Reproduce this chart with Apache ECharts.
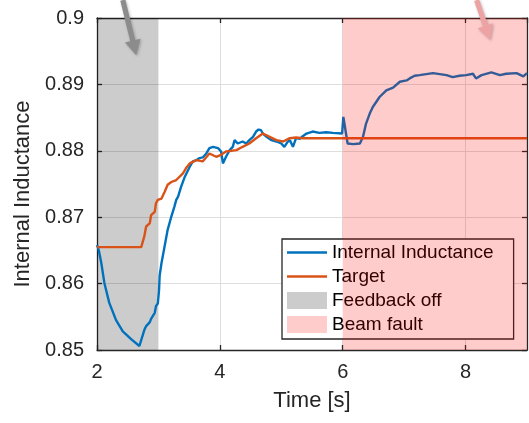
<!DOCTYPE html>
<html>
<head>
<meta charset="utf-8">
<script src="https://cdn.jsdelivr.net/npm/echarts@6/dist/echarts.min.js"></script>
<style>html,body{margin:0;padding:0;background:#fff;}#c{width:529px;height:423px;}</style>
</head>
<body>
<div id="c"></div>
<script>
const inductanceTime = [2.00,2.03,2.07,2.12,2.20,2.31,2.42,2.56,2.69,2.72,2.77,2.80,2.83,2.86,2.88,2.91,2.94,2.96,2.99,3.01,3.02,3.05,3.10,3.15,3.21,3.26,3.29,3.32,3.37,3.43,3.51,3.56,3.62,3.67,3.72,3.78,3.83,3.89,3.97,4.02,4.05,4.08,4.10,4.16,4.21,4.24,4.27,4.29,4.37,4.43,4.48,4.54,4.59,4.63,4.67,4.70,4.76,4.84,4.92,5.00,5.05,5.10,5.14,5.19,5.24,5.30,5.35,5.41,5.51,5.62,5.73,5.84,5.99,6.01,6.03,6.05,6.08,6.17,6.28,6.33,6.38,6.44,6.49,6.60,6.71,6.82,6.93,7.04,7.09,7.17,7.25,7.47,7.69,7.79,7.90,8.01,8.12,8.17,8.26,8.42,8.56,8.66,8.83,8.94,9.00];
const inductance = [0.8658,0.8650,0.8631,0.8601,0.8571,0.8545,0.8528,0.8516,0.8506,0.8505,0.8530,0.8536,0.8538,0.8542,0.8547,0.8550,0.8556,0.8566,0.8570,0.8590,0.8612,0.8631,0.8656,0.8681,0.8701,0.8716,0.8726,0.8731,0.8746,0.8761,0.8776,0.8784,0.8786,0.8789,0.8790,0.8796,0.8804,0.8806,0.8804,0.8799,0.8781,0.8779,0.8791,0.8801,0.8806,0.8816,0.8819,0.8811,0.8814,0.8811,0.8816,0.8821,0.8829,0.8832,0.8831,0.8826,0.8821,0.8816,0.8814,0.8811,0.8806,0.8813,0.8816,0.8806,0.8819,0.8818,0.8822,0.8826,0.8829,0.8827,0.8828,0.8827,0.8826,0.8851,0.8840,0.8828,0.8811,0.8810,0.8811,0.8821,0.8841,0.8856,0.8866,0.8881,0.8891,0.8895,0.8904,0.8906,0.8909,0.8913,0.8914,0.8917,0.8914,0.8911,0.8913,0.8914,0.8916,0.8909,0.8914,0.8918,0.8914,0.8916,0.8917,0.8912,0.8917];
const targetTime = [2.00,2.72,2.77,2.80,2.86,2.88,2.94,2.96,2.99,3.05,3.10,3.15,3.21,3.29,3.40,3.45,3.51,3.62,3.72,3.83,3.94,4.02,4.10,4.27,4.37,4.48,4.59,4.70,4.81,4.92,5.03,5.14,5.24,5.35,5.46,9.00];
const target = [0.8655,0.8655,0.8671,0.8686,0.8691,0.8703,0.8708,0.8721,0.8726,0.8728,0.8738,0.8749,0.8753,0.8756,0.8766,0.8774,0.8781,0.8786,0.8784,0.8796,0.8791,0.8794,0.8799,0.8801,0.8806,0.8811,0.8819,0.8826,0.8821,0.8816,0.8814,0.8819,0.8820,0.8819,0.8819,0.8819];
const feedbackOff = [2, 3];
const beamFault = [6, 9];
const xTicks = [2, 4, 6, 8];
const yTicks = [0.85, 0.86, 0.87, 0.88, 0.89, 0.9];
// arrow annotations in data coordinates: [fromX, fromY, toX, toY]
const grayArrow = [2.42, 0.9027, 2.64, 0.8944];
const pinkArrow = [8.18, 0.9027, 8.40, 0.8967];

const FONT = 'Liberation Sans, Arial, Helvetica, sans-serif';
const AX = '#262626';
const chart = echarts.init(document.getElementById('c'), null, {renderer: 'canvas'});

const baseX = {
  type: 'value', min: 2, max: 9, interval: 2
};
const baseY = {
  type: 'value', min: 0.85, max: 0.9, interval: 0.01
};

chart.setOption({
  animation: false,
  backgroundColor: '#fff',
  grid: {left: 97, right: 2, top: 18, bottom: 73, containLabel: false},
  xAxis: [
    Object.assign({}, baseX, {
      position: 'bottom',
      name: 'Time [s]', nameLocation: 'middle', nameGap: 40,
      nameTextStyle: {fontFamily: FONT, fontSize: 22, color: AX},
      axisLine: {show: true, onZero: false, lineStyle: {color: AX, width: 1.3}},
      axisTick: {show: true, inside: true, length: 5, lineStyle: {color: AX, width: 1.3}},
      axisLabel: {fontFamily: FONT, fontSize: 20, color: AX, margin: 12, showMaxLabel: false},
      splitLine: {show: true, lineStyle: {color: '#dedede', width: 1}}
    }),
    Object.assign({}, baseX, {
      position: 'top',
      axisLine: {show: true, onZero: false, lineStyle: {color: AX, width: 1.3}},
      axisTick: {show: true, inside: true, length: 5, lineStyle: {color: AX, width: 1.3}},
      axisLabel: {show: false},
      splitLine: {show: false}
    })
  ],
  yAxis: [
    Object.assign({}, baseY, {
      position: 'left',
      name: 'Internal Inductance', nameLocation: 'middle', nameGap: 62,
      nameTextStyle: {fontFamily: FONT, fontSize: 22, color: AX, padding: [0, 0, 0, -20]},
      axisLine: {show: true, onZero: false, lineStyle: {color: AX, width: 1.3}},
      axisTick: {show: true, inside: true, length: 5, lineStyle: {color: AX, width: 1.3}},
      axisLabel: {fontFamily: FONT, fontSize: 20, color: AX, margin: 13},
      splitLine: {show: true, lineStyle: {color: '#dedede', width: 1}}
    }),
    Object.assign({}, baseY, {
      position: 'right',
      axisLine: {show: true, onZero: false, lineStyle: {color: AX, width: 1.3}},
      axisTick: {show: true, inside: true, length: 5, lineStyle: {color: AX, width: 1.3}},
      axisLabel: {show: false},
      splitLine: {show: false}
    })
  ],
  legend: {
    orient: 'vertical', left: 282, top: 239,
    padding: [4, 20, 5, 5],
    itemWidth: 40, itemHeight: 17, itemGap: 5, itemTextGap: 4,
    backgroundColor: '#fff', borderColor: AX, borderWidth: 1.3, borderRadius: 0,
    textStyle: {fontFamily: FONT, fontSize: 19, color: '#000'},
    selectedMode: false,
    data: [
      {name: 'Internal Inductance', icon: 'path://M0,0H40V2.6H0Z', itemStyle: {color: '#0072BD'}},
      {name: 'Target', icon: 'path://M0,0H40V2.6H0Z', itemStyle: {color: '#D95319'}},
      {name: 'Feedback off', icon: 'rect', itemStyle: {color: '#cccccc'}},
      {name: 'Beam fault', icon: 'rect', itemStyle: {color: '#ffcccc'}}
    ]
  },
  series: [
    {
      name: 'Feedback off', type: 'line', data: [], silent: true,
      itemStyle: {color: '#cccccc'},
      markArea: {
        silent: true, z: 1,
        itemStyle: {color: 'rgba(0,0,0,0.2)', borderWidth: 0},
        data: [[{xAxis: feedbackOff[0]}, {xAxis: feedbackOff[1]}]]
      }
    },
    {
      name: 'Internal Inductance', type: 'line', z: 3,
      data: inductanceTime.map((t, i) => [t, inductance[i]]),
      showSymbol: false, symbol: 'none',
      lineStyle: {color: '#0072BD', width: 2.4},
      itemStyle: {color: '#0072BD'}
    },
    {
      name: 'Target', type: 'line', z: 4,
      data: targetTime.map((t, i) => [t, target[i]]),
      showSymbol: false, symbol: 'none',
      lineStyle: {color: '#D95319', width: 2.4},
      itemStyle: {color: '#D95319'}
    },
    {
      name: 'Beam fault', type: 'line', data: [], silent: true,
      itemStyle: {color: '#ffcccc'},
      markArea: {
        silent: true, z: 10,
        itemStyle: {color: 'rgba(255,0,0,0.2)', borderWidth: 0},
        data: [[{xAxis: beamFault[0]}, {xAxis: beamFault[1]}]]
      }
    }
  ]
});

function arrowShape(a, color) {
  const p0 = chart.convertToPixel({xAxisIndex: 0, yAxisIndex: 0}, [a[0], a[1]]);
  const p1 = chart.convertToPixel({xAxisIndex: 0, yAxisIndex: 0}, [a[2], a[3]]);
  const dx = p1[0] - p0[0], dy = p1[1] - p0[1];
  const L = Math.sqrt(dx * dx + dy * dy);
  const ux = dx / L, uy = dy / L, nx = -uy, ny = ux;
  const headLen = 15, headW = 8, shaftW = 2.6;
  const bx = p1[0] - ux * headLen, by = p1[1] - uy * headLen;
  const pts = [
    [p0[0] + nx * shaftW, p0[1] + ny * shaftW],
    [bx + nx * shaftW, by + ny * shaftW],
    [bx + nx * headW, by + ny * headW],
    [p1[0], p1[1]],
    [bx - nx * headW, by - ny * headW],
    [bx - nx * shaftW, by - ny * shaftW],
    [p0[0] - nx * shaftW, p0[1] - ny * shaftW]
  ];
  return {
    type: 'polygon', z: 100, silent: true,
    shape: {points: pts},
    style: {fill: color, shadowBlur: 3, shadowColor: 'rgba(0,0,0,0.25)', shadowOffsetX: 1, shadowOffsetY: 1}
  };
}

chart.setOption({
  graphic: [arrowShape(grayArrow, '#8c8c8c'), arrowShape(pinkArrow, '#eda3a3')]
});
</script>
</body>
</html>
